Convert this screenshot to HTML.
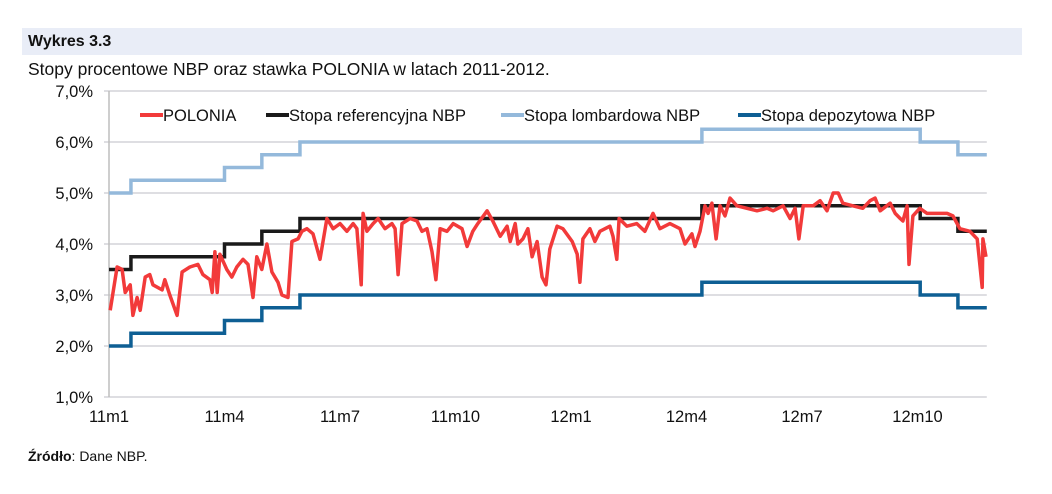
<!DOCTYPE html>
<html><head><meta charset="utf-8"><style>
body{margin:0;width:1052px;height:494px;background:#fff;position:relative;font-family:"Liberation Sans",sans-serif;overflow:hidden}
#bar{position:absolute;left:22px;top:28px;width:1000px;height:27px;background:#e9edf7}
#t1{position:absolute;left:28px;top:33px;font-size:16px;font-weight:bold;color:#111}
#t2{position:absolute;left:28px;top:59px;font-size:17.5px;color:#111}
#src{position:absolute;left:28px;top:448px;font-size:14px;color:#111}
svg{position:absolute;left:0;top:0}
</style></head><body>
<div id="bar"></div>
<div id="t1">Wykres 3.3</div>
<div id="t2">Stopy procentowe NBP oraz stawka POLONIA w latach 2011-2012.</div>
<div id="src"><b>Źródło</b>: Dane NBP.</div>
<svg id="c" width="1052" height="494"></svg>
<script>
const yTicks=[1,2,3,4,5,6,7];
const xTickLabels=["11m1","11m4","11m7","11m10","12m1","12m4","12m7","12m10"];
const xTickMonths=[0,3,6,9,12,15,18,21];
const stepMonths=[0,0.57,3.0,3.97,4.96,15.4,21.07,22.05,22.8];
const refRate=[3.5,3.75,4.0,4.25,4.5,4.75,4.5,4.25];
const lombRate=[5.0,5.25,5.5,5.75,6.0,6.25,6.0,5.75];
const depRate=[2.0,2.25,2.5,2.75,3.0,3.25,3.0,2.75];
const polMonths=[0.03,0.21,0.34,0.42,0.55,0.62,0.73,0.81,0.94,1.06,1.14,1.38,1.45,1.58,1.77,1.9,2.1,2.31,2.44,2.62,2.68,2.75,2.81,2.88,3.06,3.19,3.32,3.48,3.61,3.74,3.84,3.97,4.1,4.23,4.39,4.49,4.65,4.75,4.91,5.01,5.14,5.3,5.48,5.66,5.82,6.0,6.18,6.34,6.44,6.55,6.6,6.7,6.86,6.99,7.17,7.35,7.43,7.51,7.61,7.82,8.0,8.13,8.26,8.39,8.49,8.6,8.78,8.94,9.17,9.3,9.45,9.58,9.82,9.97,10.16,10.34,10.42,10.55,10.62,10.75,10.88,10.99,11.12,11.25,11.35,11.45,11.64,11.79,12.03,12.16,12.23,12.31,12.49,12.62,12.75,13.01,13.09,13.19,13.25,13.45,13.71,13.92,14.13,14.31,14.57,14.83,14.96,15.14,15.22,15.35,15.48,15.56,15.66,15.77,15.87,16.0,16.13,16.31,16.57,16.83,17.09,17.25,17.51,17.69,17.82,17.92,18.03,18.29,18.47,18.65,18.81,18.94,19.06,19.32,19.58,19.77,19.9,20.03,20.29,20.42,20.55,20.62,20.73,20.78,20.88,21.06,21.25,21.51,21.77,21.92,22.1,22.36,22.55,22.68,22.7,22.78];
const polValues=[2.7,3.55,3.5,3.05,3.2,2.6,2.95,2.7,3.35,3.4,3.2,3.1,3.3,3.0,2.6,3.45,3.55,3.6,3.4,3.3,3.05,3.85,3.05,3.8,3.5,3.35,3.55,3.7,3.6,2.95,3.75,3.5,4.0,3.45,3.25,3.0,2.95,4.05,4.1,4.25,4.3,4.2,3.7,4.5,4.3,4.4,4.25,4.4,4.3,3.2,4.6,4.25,4.4,4.5,4.3,4.4,4.3,3.4,4.4,4.5,4.45,4.25,4.3,3.85,3.3,4.3,4.25,4.4,4.3,3.95,4.25,4.4,4.65,4.45,4.15,4.35,4.05,4.4,4.0,4.1,4.3,3.75,4.05,3.35,3.2,3.9,4.35,4.3,4.05,3.8,3.25,4.1,4.3,4.05,4.25,4.35,4.15,3.7,4.5,4.35,4.4,4.25,4.6,4.3,4.4,4.3,4.0,4.2,3.95,4.25,4.75,4.6,4.8,4.1,4.75,4.55,4.9,4.75,4.7,4.65,4.7,4.65,4.75,4.5,4.7,4.1,4.75,4.75,4.85,4.65,5.0,5.0,4.8,4.75,4.7,4.85,4.9,4.65,4.8,4.6,4.5,4.45,4.75,3.6,4.55,4.7,4.6,4.6,4.6,4.55,4.3,4.25,4.1,3.15,4.1,3.75];

const X0=109,PX_M=38.5,Y7=91,PX_P=51;
const xs=m=>X0+m*PX_M;
const ys=v=>Y7+(7-v)*PX_P;
const NS="http://www.w3.org/2000/svg";
const svg=document.getElementById('c');
function mk(t,a){const e=document.createElementNS(NS,t);for(const k in a)e.setAttribute(k,a[k]);svg.appendChild(e);return e;}
const xEnd=xs(stepMonths[stepMonths.length-1]);
yTicks.forEach(v=>{
  const g=mk('line',{x1:X0-5,x2:xEnd,y1:ys(v),y2:ys(v),stroke:'#d4d4d9','stroke-width':1.5});
  
  
  const t=mk('text',{x:93,y:ys(v)+6,'text-anchor':'end','font-size':16.5,fill:'#111','font-family':'Liberation Sans, sans-serif'});
  t.textContent=v.toFixed(1).replace('.',',')+'%';
  
  
});
const ax=mk('line',{x1:X0,x2:X0,y1:ys(7),y2:ys(1),stroke:'#bdbdbd','stroke-width':1.5});


xTickLabels.forEach((l,i)=>{
  const t=mk('text',{x:xs(xTickMonths[i]),y:422,'text-anchor':'middle','font-size':16.5,fill:'#111','font-family':'Liberation Sans, sans-serif'});
  t.textContent=l;
  
  
});
function stepPath(vals){let d='';for(let i=0;i<vals.length;i++){const x1=xs(stepMonths[i]),x2=xs(stepMonths[i+1]),y=ys(vals[i]);d+=(i?'L':'M')+x1+' '+y+'L'+x2+' '+y;}return d;}
[[lombRate,'#94b9db','lombard-rate-line'],[depRate,'#0e5f94','deposit-rate-line'],[refRate,'#1a1a1a','reference-rate-line']].forEach(s=>{
  const p=mk('path',{d:stepPath(s[0]),fill:'none',stroke:s[1],'stroke-width':3.5});
  
  
});
let d='';polMonths.forEach((m,i)=>{d+=(i?'L':'M')+xs(m).toFixed(1)+' '+ys(polValues[i]).toFixed(1);});
const pp=mk('path',{d:d,fill:'none',stroke:'#f23a3a','stroke-width':3.5,'stroke-linejoin':'round'});


const legend=[["POLONIA","#f23a3a",140],["Stopa referencyjna NBP","#1a1a1a",266],["Stopa lombardowa NBP","#94b9db",501],["Stopa depozytowa NBP","#0e5f94",738]];
legend.forEach(l=>{
  const ln=mk('line',{x1:l[2],x2:l[2]+23,y1:115,y2:115,stroke:l[1],'stroke-width':4});
  
  
  const t=mk('text',{x:l[2]+23,y:121,'font-size':16.5,fill:'#111','font-family':'Liberation Sans, sans-serif'});
  t.textContent=l[0];
  
  
});
</script>
</body></html>
